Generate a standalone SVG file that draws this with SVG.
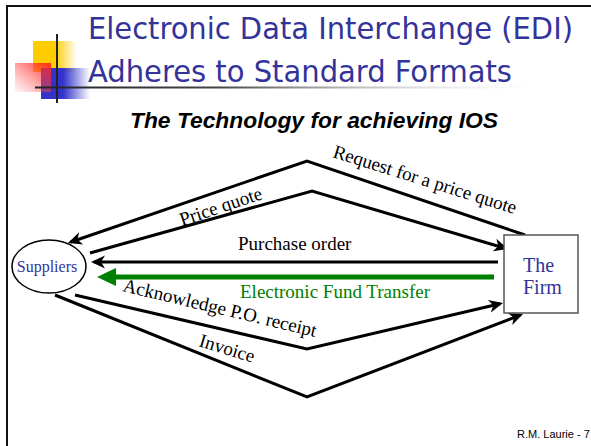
<svg xmlns="http://www.w3.org/2000/svg" width="591" height="446" viewBox="0 0 591 446">
<style>
.title{font-family:"DejaVu Sans Condensed","DejaVu Sans",sans-serif;font-stretch:condensed;font-size:30px;fill:#333399}
.sub{font-family:"Liberation Sans",Arial,sans-serif;font-weight:bold;font-style:italic;font-size:22.5px;fill:#000}
.lbl{font-family:"Liberation Serif","Times New Roman",serif;font-size:19px;fill:#000}
.node{font-family:"Liberation Serif","Times New Roman",serif;fill:#333399}
.conn{fill:none;stroke:#000;stroke-width:3;stroke-linejoin:miter}
.foot{font-family:"Liberation Sans",Arial,sans-serif;font-size:11px;fill:#000}
</style>
<defs>
<marker id="arr" markerUnits="userSpaceOnUse" viewBox="-12 -7 16 14" refX="0" refY="0" markerWidth="16" markerHeight="14" orient="auto" overflow="visible">
<path d="M3,0 L-11,-6.5 L-7,0 L-11,6.5 Z" fill="#000"/>
</marker>
<linearGradient id="gY" x1="0" y1="0" x2="1" y2="0">
<stop offset="0" stop-color="#ffcc00"/><stop offset="0.5" stop-color="#ffcc00"/><stop offset="1" stop-color="#ffcc00" stop-opacity="0"/>
</linearGradient>
<linearGradient id="gB" x1="0" y1="0" x2="1" y2="0">
<stop offset="0" stop-color="#3333cc"/><stop offset="0.45" stop-color="#3333cc"/><stop offset="1" stop-color="#3333cc" stop-opacity="0"/>
</linearGradient>
<linearGradient id="gR" x1="1" y1="0" x2="0" y2="1">
<stop offset="0" stop-color="#ff2020" stop-opacity="0.95"/><stop offset="1" stop-color="#ff6060" stop-opacity="0.05"/>
</linearGradient>
<linearGradient id="gL" x1="35" y1="0" x2="560" y2="0" gradientUnits="userSpaceOnUse">
<stop offset="0" stop-color="#222"/><stop offset="0.35" stop-color="#444"/><stop offset="1" stop-color="#fff" stop-opacity="0"/>
</linearGradient>
</defs>
<rect x="0" y="0" width="591" height="446" fill="#fff"/>
<rect x="7" y="6" width="620" height="470" fill="none" stroke="#111" stroke-width="2"/>

<g id="decoration">
<rect x="33" y="41" width="44" height="31" fill="url(#gY)"/>
<rect x="41" y="68" width="49" height="31" fill="url(#gB)"/>
<rect x="15" y="63" width="36" height="29" fill="url(#gR)"/>
<line x1="57" y1="34" x2="57" y2="103" stroke="#222" stroke-width="2"/>
<rect x="35" y="86.5" width="525" height="2" fill="url(#gL)"/>
</g>

<g id="title">
<text class="title" x="88" y="39" textLength="485" lengthAdjust="spacingAndGlyphs">Electronic Data Interchange (EDI)</text>
<text class="title" x="88" y="82" textLength="424" lengthAdjust="spacingAndGlyphs">Adheres to Standard Formats</text>
<text class="sub" x="130" y="128" textLength="368" lengthAdjust="spacingAndGlyphs">The Technology for achieving IOS</text>
</g>

<g id="connectors">
<path class="conn" d="M525,235 L307,161 L70.8,242" marker-end="url(#arr)"/>
<path class="conn" d="M90,253 L312,191 L505.1,248.2" marker-end="url(#arr)"/>
<path class="conn" d="M498,262 L94,262" marker-end="url(#arr)"/>
<path d="M494,277 L114,277" fill="none" stroke="#008000" stroke-width="5"/>
<polygon points="97,277 116,268 116,286" fill="#008000"/>
<path class="conn" d="M75,295 L307,349 L500.1,303.7" marker-end="url(#arr)"/>
<path class="conn" d="M55,295 L307,397 L520.2,315.1" marker-end="url(#arr)"/>
<text class="lbl" transform="translate(332,157) rotate(17.4)">Request for a price quote</text>
<text class="lbl" transform="translate(182,226) rotate(-18.5)">Price quote</text>
<text class="lbl" x="238" y="250">Purchase order</text>
<text class="lbl" x="240" y="298" style="fill:#008000">Electronic Fund Transfer</text>
<text class="lbl" transform="translate(122,291) rotate(13.4)">Acknowledge P.O. receipt</text>
<text class="lbl" transform="translate(198,346) rotate(17)">Invoice</text>
</g>

<g id="suppliers">
<ellipse cx="49" cy="266.5" rx="37" ry="26.5" fill="#fff" stroke="#000" stroke-width="1.5"/>
<text class="node" x="47" y="272" text-anchor="middle" font-size="16">Suppliers</text>
</g>

<g id="firm">
<rect x="504" y="235" width="74" height="78" fill="#fff" stroke="#555" stroke-width="1.5"/>
<text class="node" x="523" y="272" font-size="20">The</text>
<text class="node" x="523" y="294" font-size="20">Firm</text>
</g>

<text class="foot" x="517" y="438">R.M. Laurie - 7</text>
</svg>
